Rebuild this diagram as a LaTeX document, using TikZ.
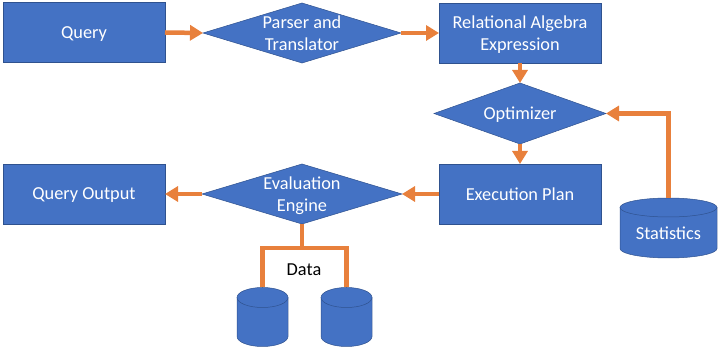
\documentclass[tikz,border=0pt]{standalone}
\usepackage{fontspec}
\setmainfont{Carlito}
\usetikzlibrary{shapes.geometric,arrows.meta}
\definecolor{boxblue}{HTML}{4472C4}
\definecolor{edgeblue}{HTML}{2F528F}
\definecolor{arrorange}{HTML}{E8803C}
\newcommand\mycyl[5]{% cx, ytop, ybot, rx, ry
  \fill[boxblue] (#1-#4, #2+#5) rectangle (#1+#4, #3-#5);
  \fill[boxblue] (#1,#3-#5) ellipse[x radius=#4, y radius=#5];
  \draw[edgeblue, line width=0.5pt] (#1-#4,#2+#5) -- (#1-#4,#3-#5) arc[start angle=180,end angle=0,x radius=#4,y radius=#5] -- (#1+#4,#2+#5);
  \draw[edgeblue, fill=boxblue, line width=0.5pt] (#1,#2+#5) ellipse[x radius=#4, y radius=#5];
}
\begin{document}
\begin{tikzpicture}[x=1pt,y=-1pt,
  txt/.style={text=white, font=\fontsize{18.3}{22}\selectfont, align=center, text depth=0pt},
  box/.style={rectangle, fill=boxblue, draw=edgeblue, line width=0.5pt, minimum width=162pt, minimum height=60pt, inner sep=0pt, outer sep=0pt, txt},
  dia/.style={diamond, fill=boxblue, draw=edgeblue, line width=0.5pt, inner sep=0pt, outer sep=0pt},
  flow/.style={draw=arrorange, line width=4.5pt, -{Triangle[length=13pt,width=15pt]}},
  link/.style={draw=arrorange, line width=4.5pt},
]
\useasboundingbox (0,0) rectangle (718,347);

\node[box] (query) at (84,32.5) {Query};
\node[dia, minimum width=198pt, minimum height=60pt, label={[txt]center:Parser and\\Translator}] (parser) at (302,33) {};
\node[box] (ra) at (520,33) {Relational Algebra\\Expression};
\node[dia, minimum width=172pt, minimum height=61pt, label={[txt]center:Optimizer}] (opt) at (520,113.5) {};
\node[box] (exec) at (520,194) {Execution Plan};
\node[dia, minimum width=200pt, minimum height=60pt, label={[txt]center:Evaluation\\Engine}] (eval) at (302,194) {};
\node[box] (qout) at (84,194) {Query Output};

\mycyl{668.5}{198}{258}{48.5}{9.5}
\node[txt] (stats) at (668.5,233) {Statistics};
\coordinate (statstop) at (668.5,198);

\mycyl{262.5}{287.5}{346.5}{25.5}{10}
\mycyl{346.5}{287.5}{346.5}{25.5}{10}
\coordinate (d1) at (262.5,287.5);
\coordinate (d2) at (346.5,287.5);
\coordinate (split) at (302,248);
\node[txt, text=black] (data) at (304,270) {Data};

\draw[flow] (query.east) -- (parser.west);
\draw[flow] (parser.east) -- (ra.west);
\draw[flow] (ra.south) -- (opt.north);
\draw[flow] (opt.south) -- (exec.north);
\draw[flow] (exec.west) -- (eval.east);
\draw[flow] (eval.west) -- (qout.east);
\draw[flow] (statstop) |- (opt.east);
\draw[link] (eval.south) -- (split);
\draw[link] (d1) |- (split) -| (d2);
\end{tikzpicture}
\end{document}
